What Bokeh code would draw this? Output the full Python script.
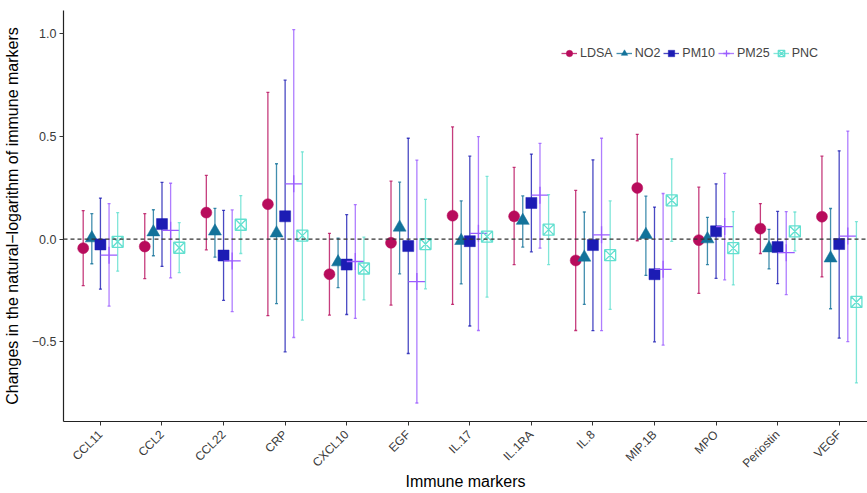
import numpy as np
from bokeh.plotting import figure
from bokeh.models import ColumnDataSource, Range1d, FixedTicker, Span, Legend, LegendItem
from bokeh.transform import dodge
from bokeh.embed import file_html
from bokeh.resources import INLINE

markers = ["CCL11", "CCL2", "CCL22", "CRP", "CXCL10", "EGF", "IL.17", "IL.1RA",
           "IL.8", "MIP.1B", "MPO", "Periostin", "VEGF"]

ldsa_est = [-0.044, -0.036, 0.129, 0.170, -0.171, -0.018, 0.114, 0.111, -0.104, 0.249, -0.005, 0.051, 0.109]
ldsa_lo = [-0.226, -0.192, -0.052, -0.373, -0.370, -0.321, -0.318, -0.124, -0.445, -0.008, -0.264, -0.070, -0.184]
ldsa_hi = [0.139, 0.124, 0.310, 0.714, 0.028, 0.282, 0.546, 0.349, 0.237, 0.510, 0.253, 0.173, 0.404]

no2_est = [0.005, 0.034, 0.038, 0.029, -0.112, 0.057, -0.008, 0.090, -0.089, 0.021, 0.000, -0.044, -0.093]
no2_lo = [-0.120, -0.081, -0.088, -0.314, -0.236, -0.169, -0.218, -0.039, -0.318, -0.177, -0.124, -0.145, -0.339]
no2_hi = [0.124, 0.143, 0.150, 0.367, 0.005, 0.277, 0.186, 0.210, 0.132, 0.209, 0.106, 0.047, 0.149]

pm10_est = [-0.026, 0.073, -0.080, 0.111, -0.124, -0.034, -0.010, 0.176, -0.029, -0.171, 0.038, -0.039, -0.024]
pm10_lo = [-0.244, -0.133, -0.298, -0.549, -0.367, -0.557, -0.423, -0.062, -0.446, -0.500, -0.191, -0.217, -0.482]
pm10_hi = [0.200, 0.276, 0.140, 0.774, 0.119, 0.491, 0.404, 0.414, 0.386, 0.156, 0.269, 0.135, 0.430]

pm25_est = [-0.078, 0.043, -0.106, 0.269, -0.109, -0.207, 0.028, 0.214, 0.021, -0.147, 0.061, -0.066, 0.015]
pm25_lo = [-0.326, -0.189, -0.353, -0.479, -0.386, -0.798, -0.445, -0.044, -0.446, -0.516, -0.198, -0.270, -0.499]
pm25_hi = [0.173, 0.272, 0.142, 1.020, 0.168, 0.385, 0.499, 0.466, 0.491, 0.222, 0.320, 0.134, 0.526]

pnc_est = [-0.013, -0.042, 0.070, 0.017, -0.143, -0.024, 0.012, 0.046, -0.078, 0.189, -0.044, 0.038, -0.306]
pnc_lo = [-0.156, -0.163, -0.070, -0.394, -0.296, -0.242, -0.282, -0.124, -0.342, -0.011, -0.223, -0.057, -0.700]
pnc_hi = [0.129, 0.080, 0.212, 0.425, 0.010, 0.193, 0.305, 0.217, 0.186, 0.391, 0.134, 0.132, 0.085]

y_ticks = [-0.5, 0.0, 0.5, 1.0]
y_tick_labels = ["\u22120.5", "0.0", "0.5", "1.0"]

series = [
    ("LDSA", ldsa_est, ldsa_lo, ldsa_hi, "#B80C5C", "circle", -0.28, 11, False),
    ("NO2", no2_est, no2_lo, no2_hi, "#13729A", "triangle", -0.14, 13, False),
    ("PM10", pm10_est, pm10_lo, pm10_hi, "#1C1CB4", "square", 0.0, 11, False),
    ("PM25", pm25_est, pm25_lo, pm25_hi, "#9B5CFF", "cross", 0.14, 17, False),
    ("PNC", pnc_est, pnc_lo, pnc_hi, "#62E0D0", "square_x", 0.28, 11, True),
]

FONT = "Liberation Sans"

p = figure(width=867, height=493, output_backend="svg", toolbar_location=None,
           x_range=Range1d(0.4, 13.46), y_range=Range1d(-0.888, 1.113),
           min_border_left=63, min_border_right=0, min_border_top=10, min_border_bottom=70)
p.outline_line_color = None
p.grid.visible = False
p.background_fill_color = "white"

zero = Span(location=0, dimension="width", line_color="#333333", line_dash="4 3", line_width=1.3)
p.add_layout(zero)

items = []
for name, est, lo, hi, col, mk, off, sz, hollow in series:
    src = ColumnDataSource(dict(xi=list(range(1, len(markers) + 1)), est=est, lo=lo, hi=hi))
    xd = dodge("xi", off)
    seg = p.segment(x0=xd, x1=xd, y0="lo", y1="hi", source=src, line_color=col,
                    line_width=1.3, line_alpha=0.8)
    p.scatter(x=xd, y="lo", source=src, marker="dash", size=3, line_color=col, line_width=1.3, line_alpha=0.8)
    p.scatter(x=xd, y="hi", source=src, marker="dash", size=3, line_color=col, line_width=1.3, line_alpha=0.8)
    if hollow:
        pt = p.scatter(x=xd, y="est", source=src, marker=mk, size=sz, line_color=col,
                       fill_color="white", fill_alpha=0.0, line_width=1.3)
    elif mk == "cross":
        pt = p.scatter(x=xd, y="est", source=src, marker=mk, size=sz, line_color=col, line_width=1.3)
    else:
        pt = p.scatter(x=xd, y="est", source=src, marker=mk, size=sz, line_color=col,
                       fill_color=col, line_width=0.5)
    items.append(LegendItem(label=name, renderers=[seg, pt]))

legend = Legend(items=items, orientation="horizontal", location=(498, 360),
                border_line_color=None, background_fill_alpha=0.0,
                label_text_font=FONT, label_text_font_size="12.5px",
                glyph_width=16, glyph_height=16, label_standoff=3, spacing=3,
                padding=0, margin=0, label_height=16)
p.add_layout(legend)

p.xaxis.ticker = FixedTicker(ticks=list(range(1, len(markers) + 1)))
p.xaxis.major_label_overrides = {i + 1: m for i, m in enumerate(markers)}
p.xaxis.major_label_orientation = np.pi / 4
p.yaxis.ticker = FixedTicker(ticks=y_ticks)
p.yaxis.major_label_overrides = {t: l for t, l in zip(y_ticks, y_tick_labels)}

for ax in [p.xaxis[0], p.yaxis[0]]:
    ax.axis_line_color = "#222222"
    ax.axis_line_width = 1.2
    ax.major_tick_line_color = "#333333"
    ax.major_tick_in = 0
    ax.major_tick_out = 4
    ax.minor_tick_line_color = None
    ax.major_label_text_font = FONT
    ax.major_label_text_font_size = "12.5px"
    ax.major_label_text_color = "#3A3A3A"
    ax.axis_label_text_font = FONT
    ax.axis_label_text_font_size = "16px"
    ax.axis_label_text_font_style = "normal"
    ax.axis_label_text_color = "black"
    ax.major_label_standoff = 3

p.xaxis.major_label_text_font_size = "12px"
p.xaxis.major_label_standoff = 7
p.xaxis.axis_label = "Immune markers"
p.yaxis.axis_label = "Changes in the natural\u2212logarithm of immune markers"
p.xaxis.axis_label_standoff = -5
p.yaxis.axis_label_standoff = 8

open("out.html", "w").write(file_html(p, INLINE))
